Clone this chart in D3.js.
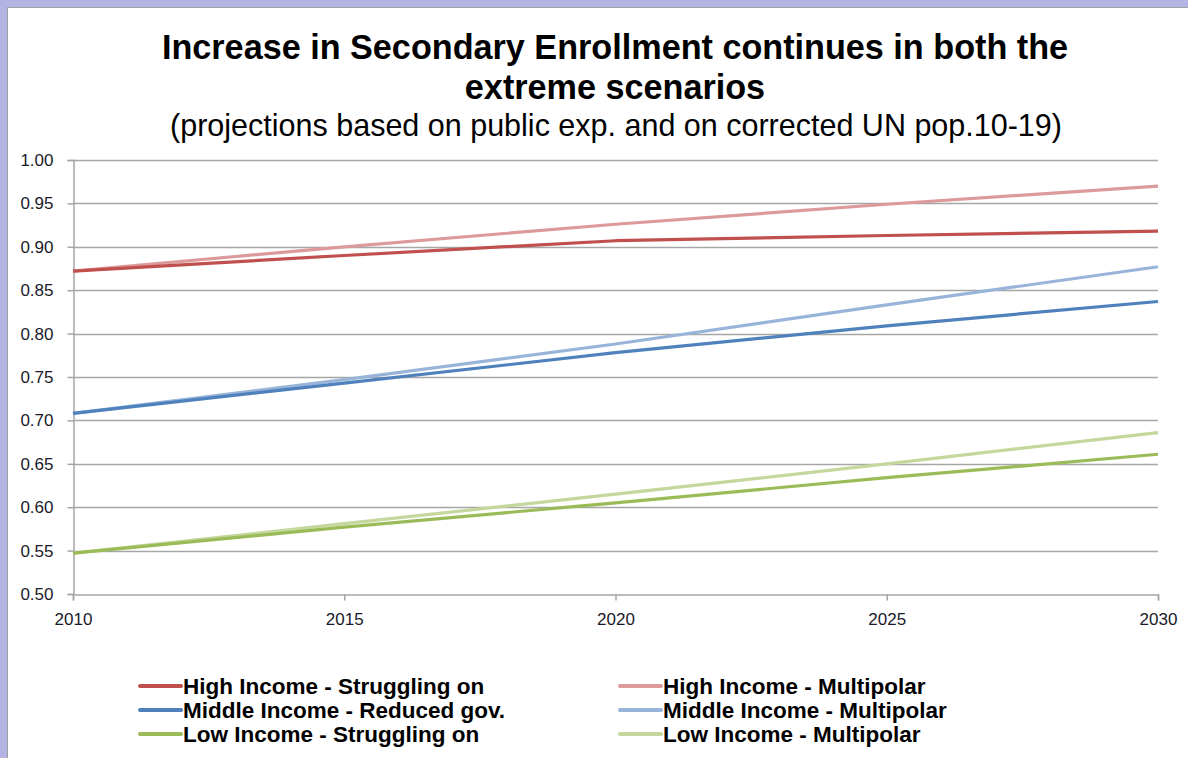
<!DOCTYPE html>
<html>
<head>
<meta charset="utf-8">
<script src="https://cdn.jsdelivr.net/npm/d3@7"></script>
<style>
  html, body { margin: 0; padding: 0; background: #b4b4e4; }
  svg { display: block; }
</style>
</head>
<body>
<svg id="chart" width="1188" height="758"></svg>
<script>
const years = [2010, 2015, 2020, 2025, 2030];
const highStruggling = [0.872, 0.890, 0.907, 0.913, 0.918];
const highMultipolar = [0.872, 0.900, 0.926, 0.949, 0.970];
const middleReduced = [0.708, 0.743, 0.778, 0.809, 0.837];
const middleMultipolar = [0.708, 0.747, 0.788, 0.833, 0.877];
const lowStruggling = [0.547, 0.577, 0.605, 0.634, 0.661];
const lowMultipolar = [0.547, 0.581, 0.615, 0.650, 0.686];
const yTicks = [0.50, 0.55, 0.60, 0.65, 0.70, 0.75, 0.80, 0.85, 0.90, 0.95, 1.00];
const xTicks = [2010, 2015, 2020, 2025, 2030];

const series = [
  { name: "High Income - Struggling on", values: highStruggling, color: "#c0504d" },
  { name: "High Income - Multipolar", values: highMultipolar, color: "#dc9b9a" },
  { name: "Middle Income - Reduced gov.", values: middleReduced, color: "#4f81bd" },
  { name: "Middle Income - Multipolar", values: middleMultipolar, color: "#98b5d9" },
  { name: "Low Income - Struggling on", values: lowStruggling, color: "#9bbb59" },
  { name: "Low Income - Multipolar", values: lowMultipolar, color: "#c4d79d" }
];

const svg = d3.select("#chart");

// white panel with thin grey edge
svg.append("rect")
  .attr("x", 7.5).attr("y", 7.5)
  .attr("width", 1190).attr("height", 760)
  .attr("fill", "#fff")
  .attr("stroke", "#a0a0a0")
  .attr("stroke-width", 1);

const font = "Arial, 'Liberation Sans', sans-serif";

// titles
svg.append("text")
  .attr("x", 615).attr("y", 59)
  .attr("text-anchor", "middle")
  .attr("font-family", font).attr("font-weight", "bold").attr("font-size", 34.2)
  .text("Increase in Secondary Enrollment continues in both the");
svg.append("text")
  .attr("x", 615).attr("y", 99)
  .attr("text-anchor", "middle")
  .attr("font-family", font).attr("font-weight", "bold").attr("font-size", 34.2)
  .text("extreme scenarios");
svg.append("text")
  .attr("x", 616).attr("y", 136)
  .attr("text-anchor", "middle")
  .attr("font-family", font).attr("font-size", 30.5)
  .text("(projections based on public exp. and on corrected UN pop.10-19)");

const x = d3.scaleLinear().domain([2010, 2030]).range([73, 1158]);
const y = d3.scaleLinear().domain([0.5, 1.0]).range([594, 160]);

// gridlines
svg.append("g")
  .selectAll("line")
  .data(yTicks.slice(1))
  .join("line")
  .attr("x1", 73).attr("x2", 1158)
  .attr("y1", d => Math.round(y(d)) + 0.5)
  .attr("y2", d => Math.round(y(d)) + 0.5)
  .attr("stroke", "#a6a6a6")
  .attr("stroke-width", 1.5);

// y axis
const yAxis = svg.append("g")
  .attr("transform", "translate(73.5,0)")
  .call(d3.axisLeft(y).tickValues(yTicks).tickFormat(d3.format(".2f")).tickSize(6).tickPadding(14));
yAxis.select(".domain").attr("stroke", "#a6a6a6").attr("stroke-width", 1.5);
yAxis.selectAll(".tick line").attr("stroke", "#a6a6a6").attr("stroke-width", 1.5);
yAxis.selectAll(".tick text")
  .attr("font-family", font).attr("font-size", 17).attr("fill", "#1a1a2a");

// x axis
const xAxis = svg.append("g")
  .attr("transform", "translate(0,594.5)")
  .call(d3.axisBottom(x).tickValues(xTicks).tickFormat(d3.format("d")).tickSize(6).tickPadding(12));
xAxis.select(".domain").attr("stroke", "#a6a6a6").attr("stroke-width", 1.5);
xAxis.selectAll(".tick line").attr("stroke", "#a6a6a6").attr("stroke-width", 1.5);
xAxis.selectAll(".tick text")
  .attr("font-family", font).attr("font-size", 17).attr("fill", "#1a1a2a");

// series lines
const line = d3.line()
  .x((d, i) => x(years[i]))
  .y(d => y(d));

// draw lighter (multipolar) first so the darker ones sit on top at the shared start
const drawOrder = [1, 3, 5, 0, 2, 4];
svg.append("g")
  .selectAll("path")
  .data(drawOrder.map(i => series[i]))
  .join("path")
  .attr("d", d => line(d.values))
  .attr("fill", "none")
  .attr("stroke", d => d.color)
  .attr("stroke-width", 3.2)
  .attr("stroke-linejoin", "round");

// legend
const legendRows = [686, 710, 734];
const legendCols = [140, 620];
const legend = svg.append("g");
series.forEach((s, i) => {
  const col = i % 2, row = Math.floor(i / 2);
  const lx = legendCols[col], ly = legendRows[row];
  legend.append("line")
    .attr("x1", lx).attr("x2", lx + 41)
    .attr("y1", ly).attr("y2", ly)
    .attr("stroke", s.color)
    .attr("stroke-width", 4)
    .attr("stroke-linecap", "round");
  legend.append("text")
    .attr("x", lx + 43).attr("y", ly + 8)
    .attr("font-family", font).attr("font-weight", "bold").attr("font-size", 22.5)
    .attr("fill", "#000")
    .text(s.name);
});
</script>
</body>
</html>
